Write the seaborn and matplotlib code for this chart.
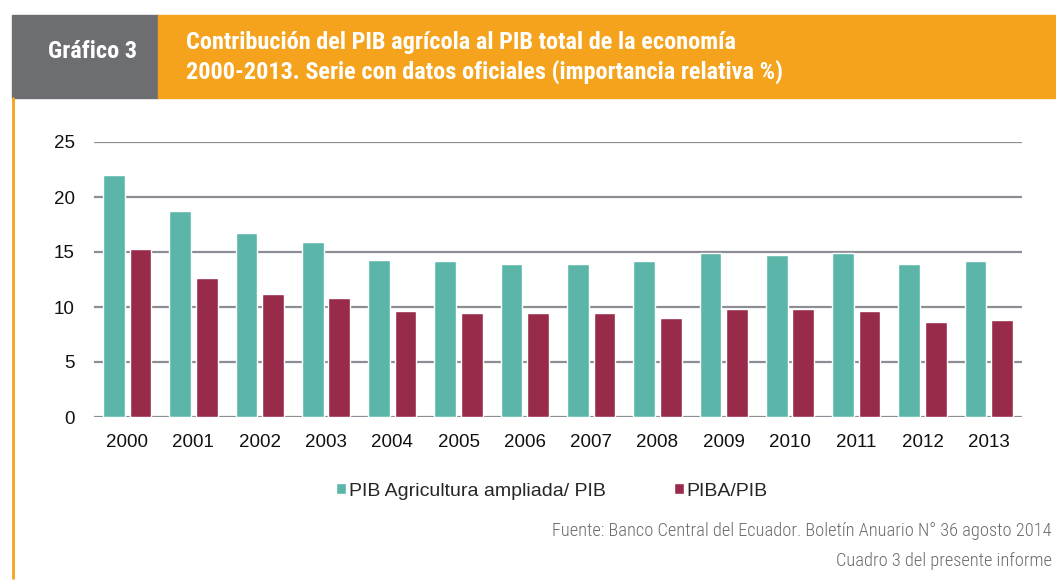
import pandas as pd
import matplotlib.pyplot as plt
import matplotlib.patches as mpatches
import seaborn as sns

# data
years = [str(y) for y in range(2000, 2014)]
pib_ampliada = [22.0, 18.7, 16.7, 15.9, 14.3, 14.15, 13.9, 13.9, 14.15, 14.95, 14.75, 14.95, 13.9, 14.15]
piba = [15.3, 12.6, 11.2, 10.8, 9.6, 9.45, 9.45, 9.45, 9.0, 9.85, 9.85, 9.6, 8.6, 8.8]
series_names = ["PIB Agricultura ampliada/ PIB", "PIBA/PIB"]
yticks = [0, 5, 10, 15, 20, 25]

df = pd.DataFrame({
    "Year": years * 2,
    "Value": pib_ampliada + piba,
    "Serie": [series_names[0]] * len(years) + [series_names[1]] * len(years),
})

green = "#5BB6A9"
red = "#992B4A"
orange = "#F5A31C"
gray_box = "#6D6E71"

sns.set_theme(style="white")
plt.rcParams["font.family"] = ["Liberation Sans", "DejaVu Sans"]
narrow = ["Roboto Condensed", "DejaVu Sans"]

fig = plt.figure(figsize=(10.56, 5.81), dpi=100)
fig.patch.set_facecolor("white")

# header band
fig.patches.append(mpatches.Rectangle((12 / 1056, 1 - 98 / 581), 146 / 1056, 83 / 581,
                                      transform=fig.transFigure, color=gray_box, zorder=0))
fig.patches.append(mpatches.Rectangle((158 / 1056, 1 - 98 / 581), 898 / 1056, 83 / 581,
                                      transform=fig.transFigure, color=orange, zorder=0))
# left orange border line
fig.add_artist(plt.Line2D([13 / 1056, 13 / 1056], [1 - 98 / 581, 1 - 578 / 581],
                          transform=fig.transFigure, color=orange, lw=2))

fig.text(92 / 1056, 1 - 52 / 581, "Gráfico 3", color="white", fontsize=17.5, fontweight="bold",
         family=narrow, ha="center", va="center")
fig.text(186 / 1056, 1 - 42 / 581, "Contribución del PIB agrícola al PIB total de la economía",
         color="white", fontsize=17.5, fontweight="bold", family=narrow, va="center")
fig.text(186 / 1056, 1 - 72 / 581, "2000-2013. Serie con datos oficiales (importancia relativa %)",
         color="white", fontsize=17.5, fontweight="bold", family=narrow, va="center")

ax = fig.add_axes([94 / 1056, 1 - 417 / 581, 928 / 1056, 275 / 581])
sns.barplot(data=df, x="Year", y="Value", hue="Serie", palette=[green, red],
            width=0.8, gap=0.18, saturation=1, ax=ax, zorder=3)

ax.set_ylim(0, 25)
ax.set_xlim(-0.5, len(years) - 0.5)
ax.set_yticks(yticks)
for y in yticks:
    ax.axhline(y, color="#8C8D95", lw=1.6, zorder=1)
for s in ax.spines.values():
    s.set_visible(False)
ax.set_xlabel("")
ax.set_ylabel("")
ax.tick_params(axis="x", length=0, pad=12, labelsize=13.5, labelcolor="#111111")
ax.tick_params(axis="y", length=0, pad=14, labelsize=13.5, labelcolor="#111111")

handles, labels = ax.get_legend_handles_labels()
ax.get_legend().remove()
fig.legend(handles, labels, loc="center", bbox_to_anchor=(552 / 1056, 1 - 491 / 581), ncol=2,
           frameon=False, handlelength=0.5, handleheight=0.5, handletextpad=0.15,
           columnspacing=3.5, fontsize=14)

fig.text(1052 / 1056, 1 - 531 / 581, "Fuente: Banco Central del Ecuador. Boletín Anuario N° 36 agosto 2014",
         color="#6b6b6b", fontsize=13.2, fontweight="light", family=narrow, ha="right", va="center")
fig.text(1052 / 1056, 1 - 561 / 581, "Cuadro 3 del presente informe",
         color="#6b6b6b", fontsize=13.2, fontweight="light", family=narrow, ha="right", va="center")

fig.savefig("out.png", dpi=100)
